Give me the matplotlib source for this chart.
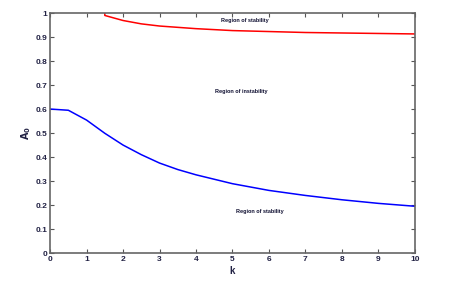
import matplotlib
matplotlib.use('Agg')
import matplotlib.pyplot as plt

# Upper boundary (red) and lower boundary (blue) of the stability region.
k_red = [1.5, 1.5, 2, 2.5, 3, 4, 5, 6, 7, 8, 9, 10]
a_red = [1.0, 0.99, 0.969, 0.955, 0.946, 0.935, 0.927, 0.923, 0.919, 0.917, 0.915, 0.913]

k_blue = [0, 0.5, 1, 1.5, 2, 2.5, 3, 3.5, 4, 5, 6, 7, 8, 9, 10]
a_blue = [0.6, 0.595, 0.554, 0.499, 0.45, 0.41, 0.375, 0.348, 0.326, 0.289, 0.261, 0.24, 0.222, 0.207, 0.195]

labels = ["Region of stability", "Region of instability", "Region of stability"]
label_k = [5.35, 5.25, 5.75]
label_a = [0.97, 0.675, 0.175]

plt.rcParams['font.family'] = ['Liberation Sans', 'DejaVu Sans']
plt.rcParams['font.weight'] = 'bold'

fig = plt.figure(figsize=(4.64, 2.84), dpi=100)
ax = fig.add_axes([0.108, 0.109, 0.786, 0.845])

ax.plot(k_red, a_red, color='red', lw=1.1)
ax.plot(k_blue, a_blue, color='blue', lw=1.1)

for t, x, y in zip(labels, label_k, label_a):
    ax.text(x, y, t, fontsize=4, fontweight='bold', ha='center', va='center', color='#111133')

ax.set_xlim(0, 10)
ax.set_ylim(0, 1)
ax.set_xticks(range(0, 11))
ax.set_yticks([i / 10 for i in range(11)])
ax.set_yticklabels(['0', '0.1', '0.2', '0.3', '0.4', '0.5', '0.6', '0.7', '0.8', '0.9', '1'])
ax.tick_params(direction='in', top=True, right=True, labelsize=6, length=3,
               width=0.8, color='#555555', labelcolor='#222244', pad=2)
for s in ax.spines.values():
    s.set_color('#666666')
    s.set_linewidth(1.2)

ax.set_xlabel('k', fontsize=7, fontweight='bold', color='#222244', labelpad=2)
ax.set_ylabel('$\\mathbf{A_0}$', fontsize=7, color='#222244', labelpad=2)

fig.savefig('out.png', dpi=100)
